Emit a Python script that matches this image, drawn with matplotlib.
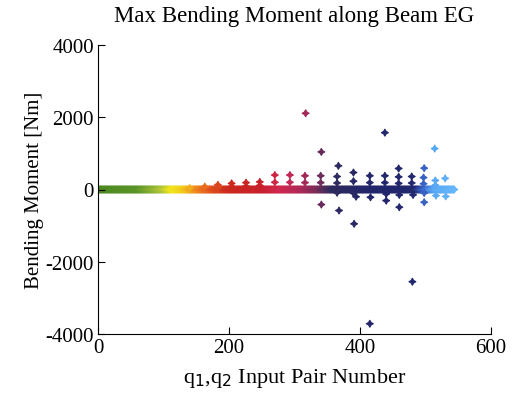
import numpy as np
import matplotlib
matplotlib.use('Agg')
import matplotlib.pyplot as plt
from matplotlib.colors import LinearSegmentedColormap

plt.rcParams['font.family'] = ['Liberation Serif', 'DejaVu Serif']
plt.rcParams['axes.unicode_minus'] = False

# number of q1,q2 input pairs
n_pairs = 544

# points that sit visibly off the zero band (pair number, moment in Nm)
bump_x = [140, 163, 183, 204, 226, 247, 270, 293, 316, 340, 365, 390, 415, 438, 459, 479, 497, 515]
bump_y = [40, 80, 130, 170, 190, 210, 400, 400, 380, 380, 360, 470, 380, 380, 350, 360, 330, 250]
stem_x = [183, 204, 226, 247, 270, 293, 316, 340, 365, 390, 415, 438, 459, 479, 497, 515]
stem_y = [60, 80, 90, 110, 200, 200, 190, 190, 180, 230, 190, 190, 170, 180, 160, 120]
dip_x = [365, 390, 394, 416, 440, 440, 460, 460, 481, 498, 498, 516, 531]
dip_y = [-90, -100, -200, -215, -124, -308, -150, -490, -150, -96, -352, -170, -190]
outlier_x = [317, 438, 341, 514, 367, 459, 498, 530, 341, 368, 391, 480, 415]
outlier_y = [2110, 1573, 1040, 1133, 655, 582, 591, 308, -417, -582, -950, -2553, -3716]

# colour of each pair number along the run
stop_idx = [0, 60, 95, 112, 128, 150, 175, 200, 250, 280, 310, 335, 358, 420, 485, 500, 515, 545]
stop_col = ['#4a881e', '#5a9428', '#a8c23a', '#f2e61c', '#f3d21b', '#ef8a20', '#e0501e',
            '#cc2a1e', '#c8202c', '#d02850', '#b02858', '#7e2c58', '#2e2a5e', '#22266a',
            '#22286e', '#3a6ad0', '#58a8f4', '#66b6fc']

cmap = LinearSegmentedColormap.from_list(
    'run', list(zip(np.array(stop_idx) / stop_idx[-1], stop_col)))

x = np.arange(1, n_pairs + 1)
y = np.zeros(n_pairs)

xs = np.concatenate([x, stem_x, bump_x, dip_x, outlier_x])
ys = np.concatenate([y, stem_y, bump_y, dip_y, outlier_y])

fig = plt.figure(figsize=(5.14, 4.06), dpi=100)
ax = fig.add_axes([98 / 514, 1 - 335 / 406, 393 / 514, 289 / 406])

ax.scatter(xs, ys, c=xs, cmap=cmap, vmin=0, vmax=stop_idx[-1],
           marker=(4, 1, 0), s=24, linewidths=0.9, edgecolors='face')

ax.set_xlim(0, 600)
ax.set_ylim(-4000, 4000)
ax.set_xticks([0, 200, 400, 600])
ax.set_yticks([-4000, -2000, 0, 2000, 4000])
ax.spines['top'].set_visible(False)
ax.spines['right'].set_visible(False)
ax.tick_params(direction='in', length=5, labelsize=15, pad=3)

ax.set_title('Max Bending Moment along Beam EG', fontsize=16.5, pad=17)
ax.set_ylabel('Bending Moment [Nm]', fontsize=15, labelpad=1)
ax.set_xlabel(r'q$_1$,q$_2$ Input Pair Number', fontsize=16, labelpad=6)

fig.savefig('out.png', dpi=100)
